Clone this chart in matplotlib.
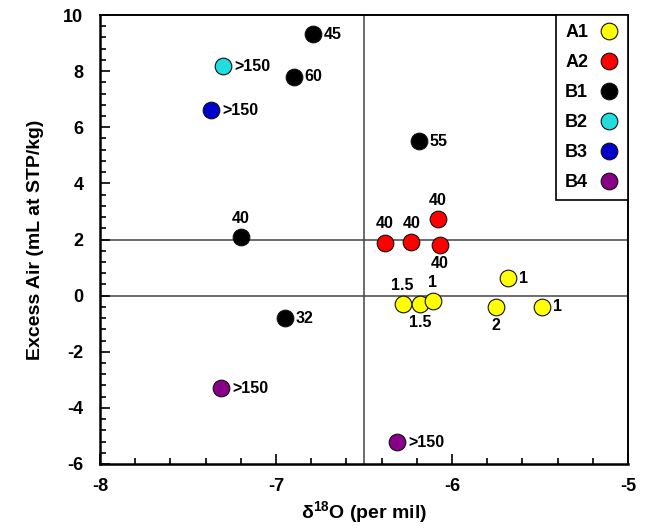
import matplotlib
matplotlib.use('Agg')
import matplotlib.pyplot as plt
from matplotlib.ticker import MultipleLocator

plt.rcParams['font.family'] = ['Liberation Sans', 'DejaVu Sans']
plt.rcParams['font.weight'] = 'bold'
plt.rcParams['axes.unicode_minus'] = False
plt.rcParams['mathtext.fontset'] = 'custom'
plt.rcParams['mathtext.rm'] = 'Liberation Sans:bold'
plt.rcParams['mathtext.bf'] = 'Liberation Sans:bold'

# data: delta 18O (x), excess air (y), age label
groups = ['A1', 'A2', 'B1', 'B2', 'B3', 'B4']
colors = ['#ffff00', '#ff0000', '#000000', '#22dddd', '#0000cc', '#880088']

a1_x = [-6.28, -6.18, -6.11, -5.68, -5.75, -5.49]
a1_y = [-0.31, -0.31, -0.18, 0.62, -0.40, -0.40]
a1_lab = ['1.5', '1.5', '1', '1', '2', '1']

a2_x = [-6.38, -6.23, -6.08, -6.07]
a2_y = [1.89, 1.91, 2.72, 1.80]
a2_lab = ['40', '40', '40', '40']

b1_x = [-6.79, -6.90, -6.19, -7.20, -6.95]
b1_y = [9.32, 7.80, 5.51, 2.09, -0.80]
b1_lab = ['45', '60', '55', '40', '32']

b2_x = [-7.30]
b2_y = [8.18]
b2_lab = ['>150']

b3_x = [-7.37]
b3_y = [6.61]
b3_lab = ['>150']

b4_x = [-7.31, -6.31]
b4_y = [-3.30, -5.22]
b4_lab = ['>150', '>150']

# where each label sits relative to its point: r=right, a=above, b=below
a1_pos = ['a', 'b', 'a', 'r', 'b', 'r']
a2_pos = ['a', 'a', 'a', 'b']
b1_pos = ['r', 'r', 'r', 'a', 'r']
b2_pos = ['r']
b3_pos = ['r']
b4_pos = ['r', 'r']

series = [(a1_x, a1_y, a1_lab, a1_pos), (a2_x, a2_y, a2_lab, a2_pos),
          (b1_x, b1_y, b1_lab, b1_pos), (b2_x, b2_y, b2_lab, b2_pos),
          (b3_x, b3_y, b3_lab, b3_pos), (b4_x, b4_y, b4_lab, b4_pos)]

offsets = {'r': ((8, 0), 'left', 'center'),
           'a': ((0, 8), 'center', 'bottom'),
           'b': ((0, -8), 'center', 'top')}

fig = plt.figure(figsize=(6.45, 5.29), dpi=100)
ax = fig.add_axes([0.155, 0.1229, 0.8186, 0.8487])

ax.axvline(-6.5, color='#444444', lw=1.1, zorder=1)
ax.axhline(0, color='#444444', lw=1.1, zorder=1)
ax.axhline(2, color='#444444', lw=1.1, zorder=1)

for name, col, (xs, ys, labs, pos) in zip(groups, colors, series):
    ax.plot(xs, ys, 'o', ms=12, mfc=col, mec='#111111', mew=0.8, label=name, zorder=3)
    for x, y, t, p in zip(xs, ys, labs, pos):
        off, ha, va = offsets[p]
        ax.annotate(t, (x, y), xytext=off, textcoords='offset points',
                    ha=ha, va=va, fontsize=11.5, fontweight='bold', zorder=4)

ax.set_xlim(-8, -5)
ax.set_ylim(-6, 10)
ax.xaxis.set_major_locator(MultipleLocator(1))
ax.xaxis.set_minor_locator(MultipleLocator(0.2))
ax.yaxis.set_major_locator(MultipleLocator(2))
ax.yaxis.set_minor_locator(MultipleLocator(0.4))
ax.tick_params(which='both', direction='in', top=False, right=False, width=1.2,
               labelsize=13)
ax.tick_params(axis='x', pad=10)
ax.tick_params(axis='y', pad=12)
ax.tick_params(which='major', length=7)
ax.tick_params(which='minor', length=4)
for lbl in ax.get_xticklabels() + ax.get_yticklabels():
    lbl.set_fontweight('bold')
for s in ax.spines.values():
    s.set_linewidth(1.4)
ax.spines['left'].set_linewidth(1.8)
ax.spines['bottom'].set_linewidth(1.8)

ax.set_xlabel('δ$^{18}$O (per mil)', fontsize=14, fontweight='bold', labelpad=3)
ax.set_ylabel('Excess Air (mL at STP/kg)', fontsize=14, fontweight='bold', labelpad=14)

leg = ax.legend(loc='upper right', bbox_to_anchor=(1.0, 1.0), borderaxespad=0,
                markerfirst=False, fancybox=False, framealpha=1, edgecolor='black',
                prop={'weight': 'bold', 'size': 13}, handletextpad=0.6,
                labelspacing=0.72, borderpad=0.5, handlelength=1.1)
leg.get_frame().set_linewidth(1.2)

plt.savefig('out.png', dpi=100)
